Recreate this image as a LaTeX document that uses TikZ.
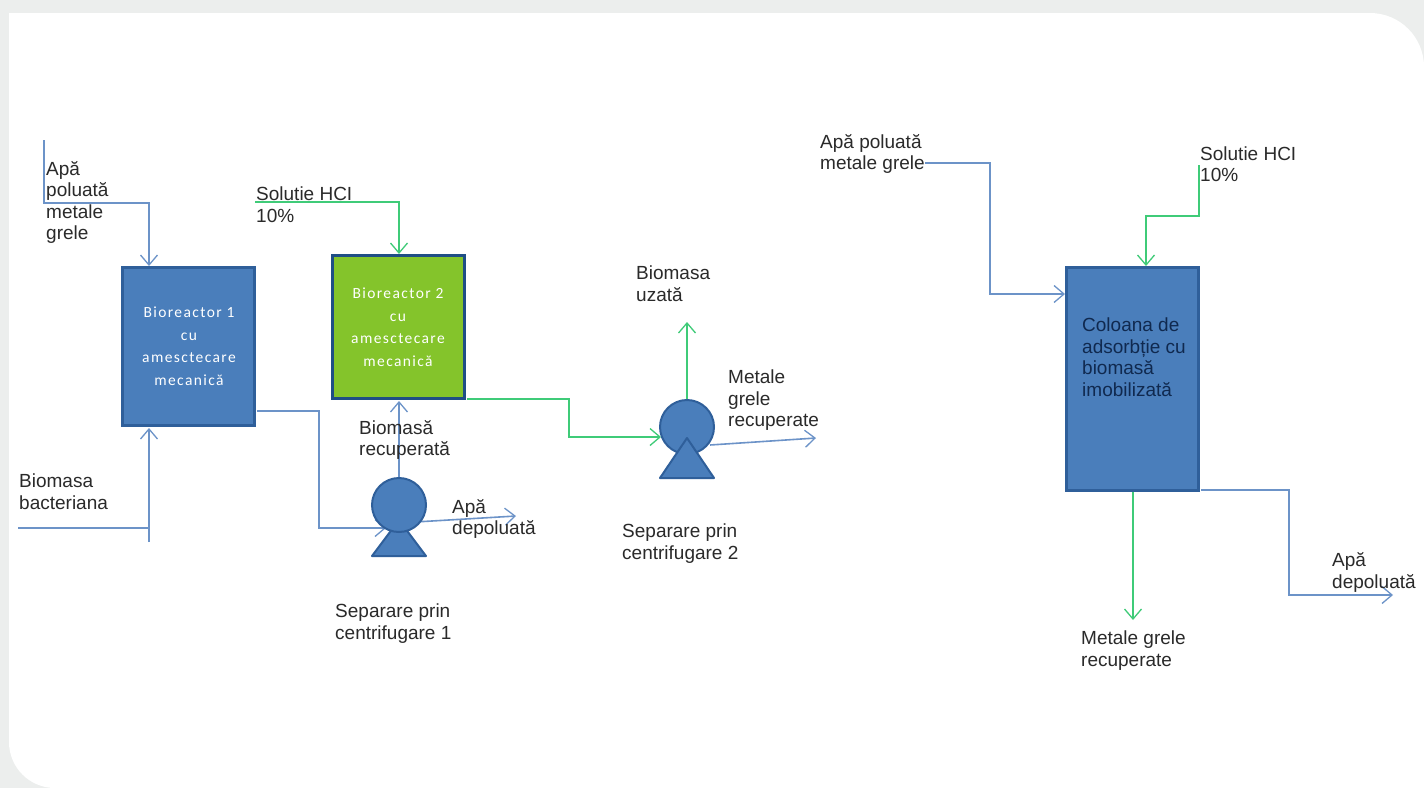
\documentclass[tikz,border=0pt]{standalone}
\usepackage{fontspec}
\setmainfont{Liberation Sans}
\newfontfamily\boxfont[LetterSpace=9]{Carlito}
\usetikzlibrary{arrows.meta}
\definecolor{pagegray}{HTML}{ECEEED}
\definecolor{flowblue}{HTML}{6C93C8}
\definecolor{flowgreen}{HTML}{3FCB78}
\definecolor{boxblue}{HTML}{4A7EBB}
\definecolor{boxedge}{HTML}{2F5F9A}
\definecolor{boxgreen}{HTML}{84C42B}
\definecolor{boxedgedark}{HTML}{1F4E85}
\definecolor{inktext}{HTML}{2A2A2A}
\definecolor{coltext}{HTML}{10294F}
\tikzset{
  x=1pt,y=-1pt,
  flow/.style={line width=1.6pt,line join=miter},
  bluef/.style={flow,draw=flowblue},
  greenf/.style={flow,draw=flowgreen},
  tip/.style={-{Straight Barb[length=10pt,width=17pt,line width=1.3pt]}},
  label/.style={anchor=north west,inner sep=0pt,align=left,text=inktext,
    font=\fontsize{19}{21.4}\selectfont},
  vessel/.style={anchor=north west,inner sep=0pt,line width=3pt,draw=boxedge,fill=boxblue},
  wlabel/.style={text=white,align=center,font=\fontsize{15.5}{22.5}\selectfont\boxfont},
  wheel/.style={circle,minimum size=54pt,inner sep=0pt,line width=2pt,draw=boxedge,fill=boxblue},
  foot/.style={line width=2pt,draw=boxedge,fill=boxblue,line join=round},
}
\begin{document}
\begin{tikzpicture}
\useasboundingbox (0,0) rectangle (1424,788);
\fill[pagegray] (0,0) rectangle (1424,788);
\fill[white] (9,13) -- (1370,13) arc[start angle=90,end angle=0,x radius=54,y radius=-54]
  -- (1424,788) -- (55,788) arc[start angle=270,end angle=180,x radius=46,y radius=-46] -- cycle;

% free ends and bends
\coordinate (a0) at (44,140);
\coordinate (a1) at (44,203);
\coordinate (b0) at (18,528);
\coordinate (b1) at (148,528);
\coordinate (b2) at (149,542);
\coordinate (s0) at (255,202);
\coordinate (d1) at (516,516);
\coordinate (u1) at (687,322);
\coordinate (m1) at (816,438);
\coordinate (r0) at (925,163);
\coordinate (h0) at (1199,165);
\coordinate (c1) at (1133,620);
\coordinate (e1) at (1393,595);

% vessels
\node[vessel,minimum width=132pt,minimum height=158pt] (bio1) at (120.5,265.5) {};
\node[vessel,draw=boxedgedark,fill=boxgreen,minimum width=132pt,minimum height=143pt] (bio2) at (330.5,253.5) {};
\node[vessel,minimum width=132pt,minimum height=223pt] (col) at (1065,265.5) {};
\node[wlabel] (bio1t) at (189,346) {Bioreactor 1\\cu\\amesctecare\\mecanică};
\node[wlabel] (bio2t) at (398,327) {Bioreactor 2\\cu\\amesctecare\\mecanică};

% connectors
\draw[bluef,tip] (a0) -- (a1) -- (149,203) -- (149,266);
\draw[bluef] (b0) -- (b1);
\draw[bluef,tip] (b2) -- (149,428);
\draw[bluef,tip] (257,411) -- (319,411) -- (319,528) -- (386,528);
\draw[greenf,tip] (s0) -- (399,202) -- (399,254);
\draw[greenf,tip] (467,399) -- (569,399) -- (569,437) -- (661,437);
\draw[greenf,tip] (687,400) -- (u1);
\draw[bluef,tip] (399,480) -- (399,401);
\draw[bluef,tip] (415,522) -- (d1);
\draw[bluef,tip] (710,445) -- (m1);
\draw[bluef,tip] (r0) -- (990,163) -- (990,294) -- (1065,294);
\draw[greenf,tip] (h0) -- (1199,216) -- (1146,216) -- (1146,266);
\draw[greenf,tip] (1133,492) -- (c1);
\draw[bluef,tip] (1201,490) -- (1289,490) -- (1289,595) -- (e1);

% centrifuges
\draw[foot] (372,556) -- (426,556) -- (399,520) -- cycle;
\node[wheel] (p1) at (399,505) {};
\node[wheel] (p2) at (687,427) {};
\draw[foot] (660,478) -- (714,478) -- (687,438) -- cycle;

% labels
\node[label] (l1) at (46,161) {Apă\\poluată\\metale\\grele};
\node[label] (l2) at (256,187) {Solutie HCI\\10\%};
\node[label] (l3) at (19,474) {Biomasa\\bacteriana};
\node[label] (l4) at (359,420) {Biomasă\\recuperată};
\node[label] (l5) at (452,499) {Apă\\depoluată};
\node[label] (l6) at (335,604) {Separare prin\\centrifugare 1};
\node[label] (l7) at (622,524) {Separare prin\\centrifugare 2};
\node[label] (l8) at (636,266) {Biomasa\\uzată};
\node[label] (l9) at (728,370) {Metale\\grele\\recuperate};
\node[label] (l10) at (820,134) {Apă poluată\\metale grele};
\node[label] (l11) at (1200,146.5) {Solutie HCI\\10\%};
\node[label,text=coltext] (l12) at (1082,318) {Coloana de\\adsorbție cu\\biomasă\\imobilizată};
\node[label] (l13) at (1081,631) {Metale grele\\recuperate};
\node[label] (l14) at (1332,552.5) {Apă\\depoluată};
\end{tikzpicture}
\end{document}
